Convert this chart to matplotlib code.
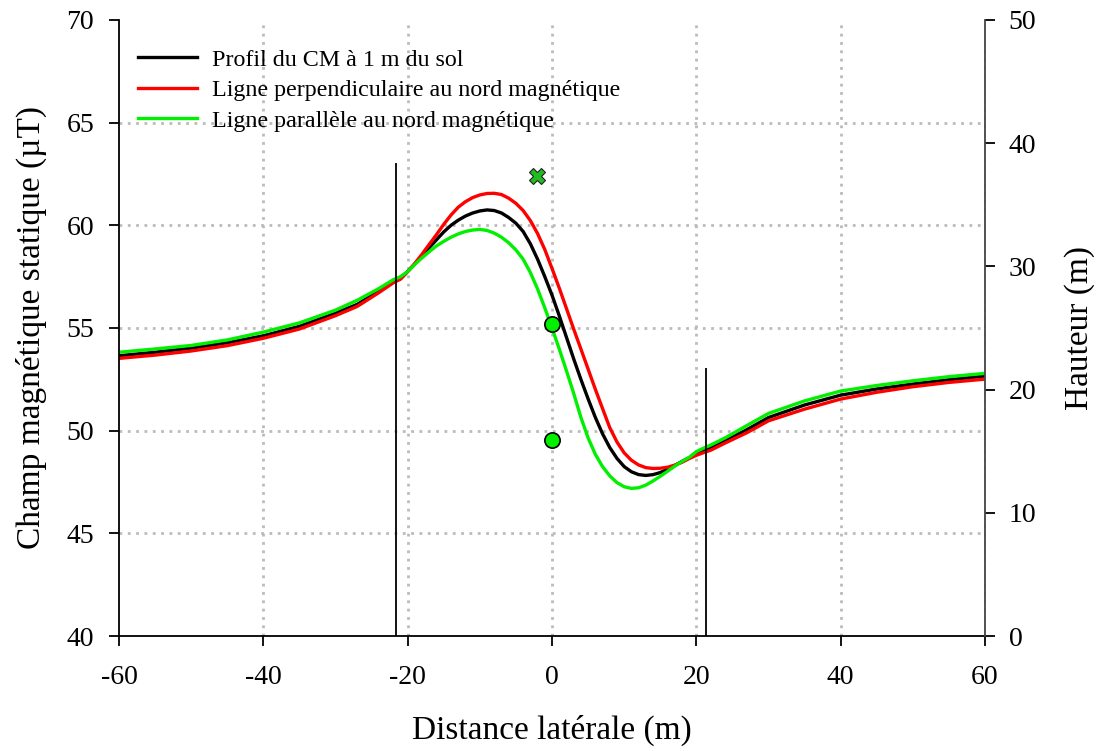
import matplotlib
matplotlib.use("Agg")
import matplotlib.pyplot as plt

# lateral distance (m)
distance = [-60, -55, -50, -45, -40, -35, -30, -27, -24, -22, -21, -20, -19, -18,
            -17, -16, -15, -14, -13, -12, -11, -10, -9, -8, -7, -6, -5, -4, -3,
            -2, -1, 0, 1, 2, 3, 4, 5, 6, 7, 8, 9, 10, 11, 12, 13, 14, 15, 16, 17,
            18, 19, 20, 21, 22, 24, 27, 30, 35, 40, 45, 50, 55, 60]

# static magnetic field (uT)
champ_cm = [53.65, 53.82, 54.02, 54.28, 54.62, 55.08, 55.72, 56.15, 56.80, 57.25,
            57.40, 57.75, 58.12, 58.52, 58.92, 59.30, 59.68, 60.00, 60.25, 60.45,
            60.60, 60.70, 60.75, 60.72, 60.60, 60.38, 60.10, 59.70, 59.10, 58.35,
            57.50, 56.60, 55.60, 54.55, 53.50, 52.50, 51.55, 50.65, 49.85, 49.18,
            48.65, 48.25, 48.00, 47.86, 47.82, 47.86, 47.96, 48.12, 48.30, 48.50,
            48.68, 48.86, 49.00, 49.15, 49.50, 50.05, 50.64, 51.25, 51.73, 52.03,
            52.27, 52.48, 52.66]
champ_perp = [53.52, 53.68, 53.88, 54.14, 54.50, 54.95, 55.60, 56.05, 56.72, 57.20,
              57.38, 57.75, 58.15, 58.60, 59.08, 59.55, 60.05, 60.50, 60.88, 61.15,
              61.35, 61.48, 61.55, 61.56, 61.50, 61.32, 61.07, 60.72, 60.23, 59.60,
              58.82, 57.90, 56.95, 55.95, 54.95, 53.98, 53.00, 52.02, 51.08, 50.15,
              49.45, 48.92, 48.56, 48.33, 48.20, 48.16, 48.17, 48.22, 48.32, 48.46,
              48.64, 48.80, 48.93, 49.05, 49.40, 49.90, 50.48, 51.05, 51.54, 51.87,
              52.14, 52.35, 52.51]
champ_para = [53.82, 53.98, 54.15, 54.42, 54.80, 55.25, 55.87, 56.35, 56.92, 57.35,
              57.50, 57.75, 58.10, 58.42, 58.72, 59.00, 59.22, 59.42, 59.58, 59.70,
              59.77, 59.80, 59.75, 59.62, 59.42, 59.15, 58.80, 58.35, 57.70, 56.90,
              55.98, 55.00, 53.98, 52.92, 51.82, 50.65, 49.65, 48.85, 48.25, 47.80,
              47.47, 47.27, 47.19, 47.22, 47.35, 47.55, 47.78, 48.02, 48.27, 48.50,
              48.70, 48.98, 49.15, 49.30, 49.65, 50.25, 50.84, 51.45, 51.93, 52.20,
              52.43, 52.63, 52.79]

# structure (right axis, height in m)
pylons_x = [-21.6, 21.35]
pylons_h = [38.4, 21.75]
conductors_x = [0, 0]
conductors_h = [25.3, 15.9]
ground_wire_x = [-2.1]
ground_wire_h = [37.3]

plt.rcParams["font.family"] = ["Liberation Serif", "DejaVu Serif"]
plt.rcParams["axes.unicode_minus"] = False

fig = plt.figure(figsize=(10.97, 7.51), dpi=100)
ax = fig.add_axes([0.1085, 0.1531, 0.7894, 0.8203])

ax.plot(distance, champ_cm, color="black", lw=2.4, label="Profil du CM à 1 m du sol")
ax.plot(distance, champ_perp, color="#ff0000", lw=2.4,
        label="Ligne perpendiculaire au nord magnétique")
ax.plot(distance, champ_para, color="#00f000", lw=2.4,
        label="Ligne parallèle au nord magnétique")

ax.set_xlim(-60, 60)
ax.set_ylim(40, 70)
ax.set_xticks(range(-60, 61, 20))
ax.set_yticks(range(40, 71, 5))

# dotted grid, interior only
for v in range(45, 70, 5):
    ax.axhline(v, color="#bbbbbb", lw=2, ls=(0, (1, 2)), zorder=0)
for v in range(-40, 61, 20):
    ax.axvline(v, color="#bbbbbb", lw=2, ls=(0, (1, 2)), zorder=0)

ax.spines["top"].set_visible(False)
ax.spines["right"].set_visible(False)
for s in ("left", "bottom"):
    ax.spines[s].set_linewidth(1.3)
ax.tick_params(labelsize=20, length=7, width=1.3, direction="out")
ax.tick_params(axis="x", pad=14)
ax.tick_params(axis="y", pad=11)

ax.set_xlabel("Distance latérale (m)", fontsize=24, labelpad=18)
ax.set_ylabel("Champ magnétique statique (µT)", fontsize=24, labelpad=14)

ax.legend(loc="upper left", bbox_to_anchor=(0.0, 0.984), frameon=False, fontsize=17.3,
          handlelength=2.45, handletextpad=0.6, labelspacing=0.36, borderaxespad=0.4)

ax2 = ax.twinx()
ax2.set_ylim(0, 50)
ax2.set_yticks(range(0, 51, 10))
for s in ("top", "left", "bottom"):
    ax2.spines[s].set_visible(False)
ax2.spines["right"].set_color("#444444")
ax2.spines["right"].set_linewidth(1.3)
ax2.tick_params(labelsize=20, length=7, width=1.3, pad=10, direction="out")
ax2.set_ylabel("Hauteur (m)", fontsize=24, labelpad=20)

ax2.vlines(pylons_x, 0, pylons_h, color="black", lw=1.3)
ax2.plot(conductors_x, conductors_h, "o", ms=11, mfc="#00f000", mec="black", mew=1.2)
ax2.plot(ground_wire_x, ground_wire_h, "X", ms=11, mfc="#22bb22", mec="#222222", mew=0.8)

fig.savefig("out.png", dpi=100)
